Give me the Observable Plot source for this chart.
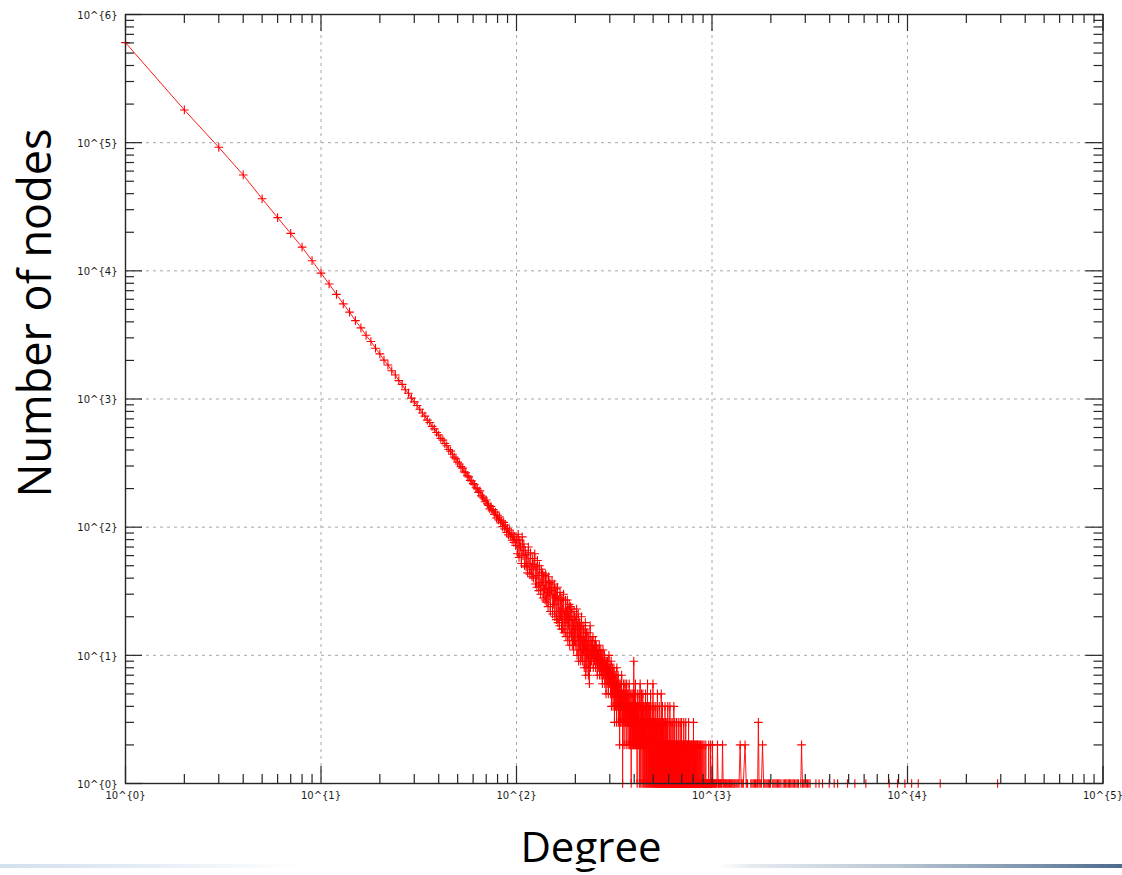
<!DOCTYPE html>
<html>
<head>
<meta charset="utf-8">
<script src="https://cdn.jsdelivr.net/npm/d3@7"></script>
<script src="https://cdn.jsdelivr.net/npm/@observablehq/plot@0.6"></script>
<style>
  html, body { margin: 0; padding: 0; background: #fff; }
  #wrap { position: relative; width: 1122px; height: 875px; overflow: hidden; }
  #wrap svg { position: absolute; left: 0; top: 0; }
  .ytitle { position: absolute; left: 33px; top: 313px; transform: translate(-50%, -50%) rotate(-90deg);
            font-family: "Open Sans", sans-serif; font-size: 45px; line-height: 45px; white-space: nowrap; color: #000; }
  .xtitle { position: absolute; left: 591px; top: 825px; transform: translateX(-50%);
            font-family: "Open Sans", sans-serif; font-size: 42px; line-height: 42px; white-space: nowrap; color: #000; }
  .bar { position: absolute; left: 0; top: 864px; width: 1122px; height: 4px;
         background: linear-gradient(to right, #d3e0ee 0%, #e3ebf5 12%, #f6f9fc 22%, #ffffff 27%, #ffffff 64%, #e6ebf0 67%, #b9c6d4 80%, #7d93ad 92%, #4c6a8c 100%); }
</style>
</head>
<body>
<div id="wrap">
  <div class="ytitle">Number of nodes</div>
  <div class="xtitle">Degree</div>
  <div class="bar"></div>
</div>
<script>
// ---- tick values / labels ----
const xMajor = [1, 10, 100, 1000, 10000, 100000];
const xTickLabels = ["10^{0}", "10^{1}", "10^{2}", "10^{3}", "10^{4}", "10^{5}"];
const yMajor = [1, 10, 100, 1000, 10000, 100000, 1000000];
const yTickLabels = ["10^{0}", "10^{1}", "10^{2}", "10^{3}", "10^{4}", "10^{5}", "10^{6}"];
const minorMultipliers = [2, 3, 4, 5, 6, 7, 8, 9];

// ---- data: number of nodes per degree ----
// degrees 1..100
const counts1to100 = [
  603000, 180000, 92000, 56000, 36500, 26000, 19600, 15300, 12000, 9600,
  7900, 6550, 5520, 4760, 4090, 3590, 3140, 2810, 2490, 2250,
  2010, 1840, 1660, 1540, 1390, 1300, 1180, 1110, 1015, 950,
  890, 832, 778, 735, 684, 655, 612, 585, 548, 524,
  493, 478, 449, 432, 404, 392, 371, 352, 341, 322,
  311, 297, 289, 270, 266, 252, 247, 231, 229, 219,
  214, 203, 199, 187, 192, 176, 172, 169, 158, 163,
  152, 148, 139, 145, 134, 137, 126, 131, 118, 124,
  114, 120, 108, 112, 101, 109, 97, 104, 91, 98,
  87, 95, 84, 90, 79, 88, 76, 85, 72, 80
];
// degrees 101..300
const counts101to300 = [
  62, 88, 58, 79, 70, 52, 84, 60, 74, 50,
  66, 49, 61, 44, 70, 52, 43, 63, 47, 41,
  57, 40, 51, 62, 36, 49, 34, 55, 42, 32,
  50, 37, 30, 47, 35, 44, 28, 42, 33, 27,
  43, 26, 38, 31, 24, 41, 29, 37, 22, 34,
  32, 38, 21, 30, 25, 36, 20, 28, 33, 19,
  29, 34, 18, 27, 22, 17, 31, 20, 27, 16,
  28, 16, 23, 30, 15, 21, 18, 27, 14, 22,
  19, 27, 13, 22, 17, 25, 12, 20, 24, 15,
  14, 23, 12, 19, 17, 11, 22, 13, 20, 16,
  12, 19, 23, 10, 17, 14, 21, 9, 13, 18,
  11, 17, 9, 14, 20, 10, 13, 9, 17, 11,
  16, 8, 13, 11, 18, 7, 10, 15, 8, 12,
  10, 15, 7, 13, 9, 6, 11, 17, 8, 10,
  13, 9, 11, 12, 10, 14, 8, 11, 10, 12,
  9, 11, 13, 8, 10, 12, 9, 11, 7, 10,
  11, 8, 10, 9, 12, 7, 9, 10, 8, 11,
  7, 9, 10, 8, 6, 9, 11, 8, 7, 9,
  8, 10, 6, 9, 7, 8, 5, 9, 7, 8,
  6, 9, 7, 8, 5, 7, 10, 6, 8, 7
];
// degrees 301..600 (0 = no node with that degree)
const counts301to600 = [
  6, 8, 5, 7, 9, 4, 7, 6, 5, 8,
  6, 4, 7, 5, 8, 6, 3, 7, 5, 6,
  4, 7, 5, 6, 3, 8, 5, 4, 6, 5,
  7, 3, 5, 6, 4, 5, 2, 6, 4, 5,
  3, 6, 4, 5, 7, 3, 4, 5, 1, 4,
  5, 3, 6, 4, 2, 5, 4, 3, 6, 4,
  3, 5, 4, 2, 4, 6, 3, 4, 5, 3,
  4, 2, 5, 3, 4, 3, 6, 2, 4, 3,
  3, 5, 2, 4, 3, 1, 4, 3, 5, 2,
  4, 3, 2, 5, 3, 4, 2, 9, 3, 2,
  3, 5, 2, 4, 2, 6, 3, 2, 4, 3,
  2, 4, 3, 1, 5, 3, 2, 4, 3, 2,
  4, 2, 3, 5, 1, 3, 2, 4, 6, 2,
  3, 1, 4, 2, 3, 5, 2, 3, 1, 4,
  2, 3, 5, 2, 1, 4, 3, 2, 3, 1,
  3, 2, 4, 1, 3, 2, 5, 2, 1, 3,
  2, 4, 1, 3, 2, 1, 3, 6, 2, 2,
  1, 3, 2, 4, 1, 2, 3, 1, 2, 4,
  2, 1, 3, 2, 5, 1, 2, 3, 1, 2,
  3, 1, 2, 4, 2, 1, 3, 2, 6, 1,
  2, 3, 1, 2, 4, 1, 2, 3, 1, 2,
  1, 3, 2, 1, 2, 4, 1, 2, 3, 1,
  2, 1, 3, 2, 1, 5, 2, 1, 2, 3,
  1, 2, 1, 3, 2, 1, 4, 2, 1, 2,
  3, 1, 2, 1, 2, 3, 1, 2, 1, 5,
  2, 1, 3, 1, 2, 1, 2, 4, 1, 2,
  1, 2, 1, 3, 1, 2, 1, 2, 3, 1,
  2, 1, 2, 1, 4, 1, 2, 1, 3, 1,
  2, 1, 3, 1, 2, 1, 1, 2, 1, 3,
  1, 2, 1, 4, 1, 2, 1, 1, 2, 1
];
// degrees 601..1000
const counts601to1000 = [
  2, 1, 1, 3, 1, 2, 0, 1, 4, 1,
  1, 2, 1, 0, 2, 1, 3, 1, 1, 2,
  0, 1, 2, 1, 1, 3, 1, 0, 2, 1,
  1, 2, 1, 1, 0, 2, 1, 4, 1, 1,
  2, 0, 1, 1, 3, 1, 0, 2, 1, 1,
  1, 2, 0, 1, 1, 2, 1, 3, 0, 1,
  2, 1, 1, 0, 2, 1, 1, 2, 0, 1,
  1, 3, 1, 0, 1, 2, 1, 1, 0, 2,
  1, 1, 0, 2, 1, 1, 3, 0, 1, 1,
  2, 0, 1, 1, 2, 1, 0, 1, 3, 1,
  1, 0, 2, 1, 1, 0, 1, 2, 1, 0,
  1, 2, 1, 0, 1, 1, 3, 0, 1, 2,
  0, 1, 1, 2, 0, 1, 1, 0, 2, 1,
  1, 0, 1, 3, 1, 0, 1, 2, 0, 1,
  1, 1, 0, 2, 1, 0, 1, 1, 2, 0,
  1, 0, 2, 1, 0, 1, 1, 0, 3, 1,
  0, 1, 2, 0, 1, 1, 0, 2, 1, 0,
  1, 1, 0, 2, 0, 1, 1, 0, 1, 2,
  0, 1, 0, 1, 2, 1, 0, 1, 1, 0,
  2, 1, 0, 1, 0, 1, 2, 0, 1, 1,
  0, 1, 0, 3, 1, 0, 1, 2, 0, 1,
  1, 0, 1, 0, 2, 1, 0, 1, 1, 0,
  1, 2, 0, 1, 0, 1, 1, 0, 2, 0,
  1, 0, 1, 1, 0, 2, 0, 1, 0, 1,
  1, 0, 2, 0, 1, 1, 0, 2, 0, 1,
  0, 1, 1, 0, 1, 0, 2, 1, 0, 1,
  1, 0, 0, 1, 2, 0, 1, 0, 1, 1,
  0, 1, 0, 2, 1, 0, 1, 0, 0, 1,
  1, 0, 1, 1, 0, 2, 0, 1, 0, 1,
  0, 1, 0, 1, 1, 0, 1, 2, 0, 1,
  1, 0, 1, 0, 0, 1, 1, 0, 1, 0,
  2, 0, 1, 0, 1, 0, 1, 1, 0, 1,
  0, 1, 0, 1, 0, 1, 0, 1, 0, 2,
  1, 0, 1, 0, 1, 1, 0, 0, 1, 0,
  1, 0, 1, 0, 0, 1, 0, 1, 1, 0,
  1, 0, 0, 1, 0, 1, 0, 1, 0, 1,
  0, 2, 0, 1, 0, 0, 1, 0, 1, 0,
  1, 0, 1, 0, 1, 0, 0, 1, 0, 1,
  0, 1, 0, 2, 0, 1, 0, 0, 1, 0,
  1, 0, 1, 0, 0, 1, 0, 1, 0, 1
];
// sparse tail, degrees above 1000
const tailDegrees = [
  1003, 1006, 1011, 1018, 1024, 1031, 1037, 1045, 1052, 1060, 1067, 1075, 1081, 1090, 1098,
  1107, 1115, 1124, 1132, 1141, 1150, 1162, 1171, 1183, 1194, 1205, 1218, 1229, 1241, 1256,
  1268, 1283, 1297, 1310, 1326, 1342, 1358, 1375, 1393, 1410, 1428, 1446, 1476, 1497, 1520,
  1580, 1601, 1624, 1648, 1671, 1695, 1712, 1727, 1741, 1765, 1790, 1813, 1838, 1862, 1889,
  1915, 1942, 1968, 1990, 2045, 2072, 2101, 2130, 2162, 2193, 2226, 2252, 2310, 2345, 2380,
  2418, 2455, 2490, 2528, 2566, 2604, 2645, 2688, 2730, 2768, 2845, 2871, 2902, 2945, 2990,
  3035, 3080, 3128, 3175, 3400, 3530, 3675, 3975, 4215, 4390, 4935, 5380, 6125, 8060, 8900,
  9700, 10500, 11350, 14700, 28900
];
const tailCounts = [
  1, 2, 1, 1, 1, 1, 1, 1, 1, 1, 2, 1, 1, 1, 1,
  1, 1, 1, 2, 1, 1, 1, 1, 1, 1, 1, 1, 1, 1, 1,
  1, 1, 1, 1, 1, 1, 1, 1, 2, 1, 1, 1, 2, 1, 1,
  1, 1, 1, 1, 1, 1, 1, 3, 1, 1, 1, 2, 1, 1, 1,
  1, 1, 1, 1, 1, 1, 1, 1, 1, 1, 1, 1, 1, 1, 1,
  1, 1, 1, 1, 1, 1, 1, 1, 1, 1, 1, 2, 1, 1, 1,
  1, 1, 1, 1, 1, 1, 1, 1, 1, 1, 1, 1, 1, 1, 1,
  1, 1, 1, 1, 1
];

// ---- assemble rows ----
const rows = [];
counts1to100.forEach((c, i) => rows.push({degree: i + 1, nodes: c}));
counts101to300.forEach((c, i) => rows.push({degree: i + 101, nodes: c}));
counts301to600.forEach((c, i) => rows.push({degree: i + 301, nodes: c}));
counts601to1000.forEach((c, i) => rows.push({degree: i + 601, nodes: c}));
tailDegrees.forEach((d, i) => rows.push({degree: d, nodes: tailCounts[i]}));
const data = rows.filter(r => r.nodes > 0);

const xMinor = xMajor.slice(0, -1).flatMap(p => minorMultipliers.map(m => p * m));
const yMinor = yMajor.slice(0, -1).flatMap(p => minorMultipliers.map(m => p * m));
const xGrid = xMajor.slice(1, -1);
const yGrid = yMajor.slice(1, -1);

const W = 1122, H = 875, mL = 125, mR = 19.5, mT = 14, mB = 92;
const fw = W - mL - mR, fh = H - mT - mB;
const majorLen = 17, minorLen = 9;
const axisColor = "#262626";
const tickFont = "DejaVu Sans, sans-serif";

const chart = Plot.plot({
  width: W,
  height: H,
  marginLeft: mL,
  marginRight: mR,
  marginTop: mT,
  marginBottom: mB,
  style: {background: "transparent", overflow: "visible"},
  x: {type: "log", domain: [1, 100000], axis: null},
  y: {type: "log", domain: [1, 1000000], axis: null},
  marks: [
    Plot.ruleX(xGrid, {x: d => d, stroke: "#a8a8a8", strokeWidth: 1, strokeDasharray: "3,4"}),
    Plot.ruleY(yGrid, {y: d => d, stroke: "#a8a8a8", strokeWidth: 1, strokeDasharray: "3,4"}),
    Plot.line(data, {x: "degree", y: "nodes", stroke: "#ff0000", strokeWidth: 1, strokeOpacity: 0.9}),
    Plot.dot(data, {x: "degree", y: "nodes", symbol: "plus", r: 2.9, stroke: "#ff0000", strokeWidth: 1.1}),
    // bottom / top ticks
    Plot.tickX(xMajor, {x: d => d, insetTop: fh - majorLen, stroke: axisColor, strokeWidth: 1.2}),
    Plot.tickX(xMinor, {x: d => d, insetTop: fh - minorLen, stroke: axisColor, strokeWidth: 1.2}),
    Plot.tickX(xMajor, {x: d => d, insetBottom: fh - majorLen, stroke: axisColor, strokeWidth: 1.2}),
    Plot.tickX(xMinor, {x: d => d, insetBottom: fh - minorLen, stroke: axisColor, strokeWidth: 1.2}),
    // left / right ticks
    Plot.tickY(yMajor, {y: d => d, insetRight: fw - majorLen, stroke: axisColor, strokeWidth: 1.2}),
    Plot.tickY(yMinor, {y: d => d, insetRight: fw - minorLen, stroke: axisColor, strokeWidth: 1.2}),
    Plot.tickY(yMajor, {y: d => d, insetLeft: fw - majorLen, stroke: axisColor, strokeWidth: 1.2}),
    Plot.tickY(yMinor, {y: d => d, insetLeft: fw - minorLen, stroke: axisColor, strokeWidth: 1.2}),
    Plot.frame({stroke: axisColor, strokeWidth: 1.4}),
    // tick labels
    Plot.text(xMajor, {x: d => d, text: (d, i) => xTickLabels[i], frameAnchor: "bottom", dy: 15,
      fontSize: 10, fontFamily: tickFont, fill: "#1a1a1a", textAnchor: "middle"}),
    Plot.text(yMajor, {y: d => d, text: (d, i) => yTickLabels[i], frameAnchor: "left", dx: -8, dy: 1,
      fontSize: 10, fontFamily: tickFont, fill: "#1a1a1a", textAnchor: "end"})
  ]
});

document.getElementById("wrap").prepend(chart);
</script>
</body>
</html>
